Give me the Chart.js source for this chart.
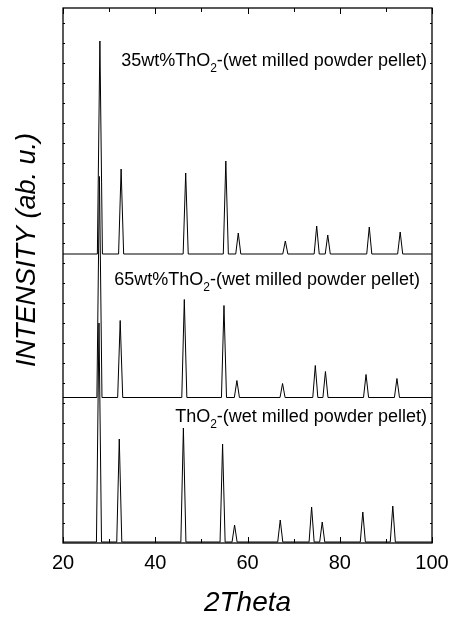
<!DOCTYPE html>
<html>
<head>
<meta charset="utf-8">
<script src="https://cdn.jsdelivr.net/npm/chart.js@4.4.1/dist/chart.umd.min.js"></script>
<style>
    html, body { margin: 0; padding: 0; background: #fff; }
    #wrap { width: 453px; height: 622px; position: relative; }
</style>
</head>
<body>
<div id="wrap"><canvas id="xrdChart"></canvas></div>
<script>
/* peak positions (2Theta) and heights (a.u.) */
const peaks35 = [28.0, 32.6, 46.6, 55.3, 58.0, 68.2, 75.0, 77.4, 86.4, 93.1];
const heights35 = [426, 170, 162, 186, 42, 26, 56, 38, 54, 44];

const peaks65 = [27.9, 32.4, 46.3, 54.9, 57.7, 67.6, 74.7, 76.9, 85.7, 92.4];
const heights65 = [442, 154, 196, 184, 34, 28, 64, 52, 46, 38];

const peaksThO2 = [27.8, 32.2, 46.1, 54.6, 57.2, 67.1, 73.9, 76.2, 85.0, 91.5];
const heightsThO2 = [438, 206, 228, 196, 34, 44, 70, 40, 60, 72];

/* baseline of each stacked pattern */
const baselines = [578, 291, 2];

const xTicks = [20, 40, 60, 80, 100];

const sampleNames = [
    ["35wt%ThO", "2", "-(wet milled powder pellet)"],
    ["65wt%ThO", "2", "-(wet milled powder pellet)"],
    ["ThO", "2", "-(wet milled powder pellet)"]
];

/* where the sample names sit (right end, text baseline) in data units */
const namePos = [
    { x: 98.9, y: 955 },
    { x: 97.4, y: 516 },
    { x: 98.9, y: 243 }
];

const FONT = "'Liberation Sans', Arial, sans-serif";
const PEAK_HALF_WIDTH = 0.55;

function pattern(pos, heights, base) {
    const pts = [{ x: 20, y: base }];
    pos.forEach((p, i) => {
        pts.push({ x: p - PEAK_HALF_WIDTH, y: base });
        pts.push({ x: p, y: base + heights[i] });
        pts.push({ x: p + PEAK_HALF_WIDTH, y: base });
    });
    pts.push({ x: 100, y: base });
    return pts;
}

/* frame, inward ticks, sample names and y title */
const decorations = {
    id: "decorations",
    afterDraw(chart) {
        const ctx = chart.ctx;
        const area = chart.chartArea;
        const xs = chart.scales.x;
        const ys = chart.scales.y;

        ctx.save();
        ctx.strokeStyle = "#000";
        ctx.lineWidth = 1.3;
        ctx.strokeRect(area.left, area.top, area.right - area.left, area.bottom - area.top);

        ctx.lineWidth = 1;
        ctx.beginPath();
        for (let v = 20; v <= 100; v += 10) {
            const px = Math.round(xs.getPixelForValue(v)) + 0.5;
            const len = v % 20 === 0 ? 6 : 4;
            ctx.moveTo(px, area.bottom);
            ctx.lineTo(px, area.bottom - len);
            ctx.moveTo(px, area.top);
            ctx.lineTo(px, area.top + len);
        }
        for (let v = 40; v < 1070; v += 40) {
            const py = Math.round(ys.getPixelForValue(v)) + 0.5;
            ctx.moveTo(area.left, py);
            ctx.lineTo(area.left + 2, py);
            ctx.moveTo(area.right, py);
            ctx.lineTo(area.right - 2, py);
        }
        ctx.stroke();

        ctx.fillStyle = "#000";
        ctx.textBaseline = "alphabetic";
        sampleNames.forEach((parts, i) => {
            const big = "18px " + FONT;
            const small = "12px " + FONT;
            ctx.font = big;
            const w0 = ctx.measureText(parts[0]).width;
            const w2 = ctx.measureText(parts[2]).width;
            ctx.font = small;
            const w1 = ctx.measureText(parts[1]).width;
            let x = xs.getPixelForValue(namePos[i].x) - (w0 + w1 + w2);
            const y = ys.getPixelForValue(namePos[i].y);
            ctx.textAlign = "left";
            ctx.font = big;
            ctx.fillText(parts[0], x, y);
            x += w0;
            ctx.font = small;
            ctx.fillText(parts[1], x, y + 6);
            x += w1;
            ctx.font = big;
            ctx.fillText(parts[2], x, y);
        });

        ctx.translate(35, 250);
        ctx.rotate(-Math.PI / 2);
        ctx.textAlign = "center";
        ctx.font = "italic 27px " + FONT;
        ctx.fillText("INTENSITY (ab. u.)", 0, 0);
        ctx.restore();
    }
};

const lineStyle = {
    borderColor: "#000",
    borderWidth: 1,
    pointRadius: 0,
    tension: 0,
    fill: false
};

new Chart(document.getElementById("xrdChart"), {
    type: "line",
    data: {
        datasets: [
            { ...lineStyle, label: "ThO2", data: pattern(peaksThO2, heightsThO2, baselines[2]) },
            { ...lineStyle, label: "65wt%ThO2", data: pattern(peaks65, heights65, baselines[1]) },
            { ...lineStyle, label: "35wt%ThO2", data: pattern(peaks35, heights35, baselines[0]) }
        ]
    },
    options: {
        animation: false,
        responsive: true,
        maintainAspectRatio: false,
        layout: { padding: { left: 63, right: 21, top: 8, bottom: 0 } },
        plugins: {
            legend: { display: false },
            tooltip: { enabled: false }
        },
        scales: {
            x: {
                type: "linear",
                min: 20,
                max: 100,
                afterBuildTicks: scale => {
                    scale.ticks = xTicks.map(v => ({ value: v }));
                },
                afterFit: scale => {
                    scale.height = 79;
                    scale.paddingLeft = 0;
                    scale.paddingRight = 0;
                },
                grid: { display: false, drawTicks: false, tickLength: 0 },
                border: { display: false },
                ticks: {
                    color: "#000",
                    padding: 8,
                    maxRotation: 0,
                    autoSkip: false,
                    font: { family: FONT, size: 20 }
                },
                title: {
                    display: true,
                    text: "2Theta",
                    color: "#000",
                    font: { family: FONT, size: 28, style: "italic" },
                    padding: { top: 0, bottom: 2 }
                }
            },
            y: {
                type: "linear",
                min: 0,
                max: 1070,
                display: false
            }
        }
    },
    plugins: [decorations]
});
</script>
</body>
</html>
